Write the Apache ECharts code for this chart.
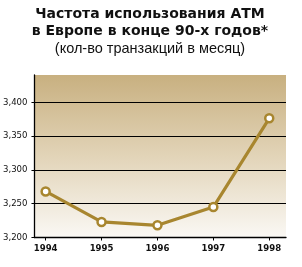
<!DOCTYPE html>
<html><head><meta charset="utf-8">
<script src="https://cdn.jsdelivr.net/npm/echarts@6/dist/echarts.min.js"></script>
<style>html,body{margin:0;padding:0;background:#fff}#c{width:302px;height:267px}</style>
</head><body><div id="c"></div>
<script>
const years = [1994, 1995, 1996, 1997, 1998];
const values = [3268, 3223, 3218, 3245, 3376];
const yTicks = [3200, 3250, 3300, 3350, 3400];
const titleLines = ['Частота использования АТМ', 'в Европе в конце 90-х годов*'];
const subtitle = '(кол-во транзакций в месяц)';

const chart = echarts.init(document.getElementById('c'));
const lineColor = '#a8862f';
const narrow = "'DejaVu Sans Condensed', 'Liberation Sans', sans-serif";
chart.setOption({
  animation: false,
  title: {
    text: titleLines.join('\n'),
    subtext: subtitle,
    left: 145, textAlign: 'center', top: 1,
    itemGap: 1,
    textStyle: {fontFamily: "'DejaVu Sans', sans-serif", fontWeight: 'bold', fontSize: 14, lineHeight: 17, color: '#111'},
    subtextStyle: {fontFamily: 'Liberation Sans', fontSize: 14.5, color: '#111', lineHeight: 16}
  },
  grid: {
    left: 33.5, right: 16, top: 75, bottom: 29.5,
    show: true, borderWidth: 0,
    backgroundColor: new echarts.graphic.LinearGradient(0, 0, 0, 1, [
      {offset: 0, color: '#c8b080'}, {offset: 0.5, color: '#e2d4b8'}, {offset: 1, color: '#faf8f4'}
    ])
  },
  xAxis: {
    type: 'value', min: 1993.8, max: 1998.3,
    axisLine: {show: true, lineStyle: {color: '#000', width: 1.3}},
    axisTick: {show: true, customValues: years, length: 3, lineStyle: {color: '#000'}},
    axisLabel: {customValues: years, formatter: v => String(v), margin: 6,
      fontFamily: narrow, fontWeight: 'bold', fontSize: 9.5, color: '#111'},
    splitLine: {show: false}
  },
  yAxis: {
    type: 'value', min: 3200, max: 3440,
    axisLine: {show: true, lineStyle: {color: '#000', width: 1.3}},
    axisTick: {show: true, customValues: yTicks, length: 3, lineStyle: {color: '#000'}},
    axisLabel: {customValues: yTicks, margin: 7,
      formatter: v => String(v).replace(/(\d)(\d{3})$/, '$1,$2'),
      fontFamily: narrow, fontSize: 9.5, color: '#111'},
    splitLine: {show: false}
  },
  series: [{
    type: 'line',
    data: years.map((y, i) => [y, values[i]]),
    lineStyle: {color: lineColor, width: 3.2},
    symbol: 'circle', symbolSize: 8,
    itemStyle: {color: '#fff', borderColor: lineColor, borderWidth: 2.5},
    z: 5,
    markLine: {
      silent: true, symbol: 'none', z: 1,
      label: {show: false},
      lineStyle: {color: '#000', type: 'solid', width: 1.2},
      data: yTicks.slice(1).map(v => ({yAxis: v}))
    }
  }]
});
</script></body></html>
